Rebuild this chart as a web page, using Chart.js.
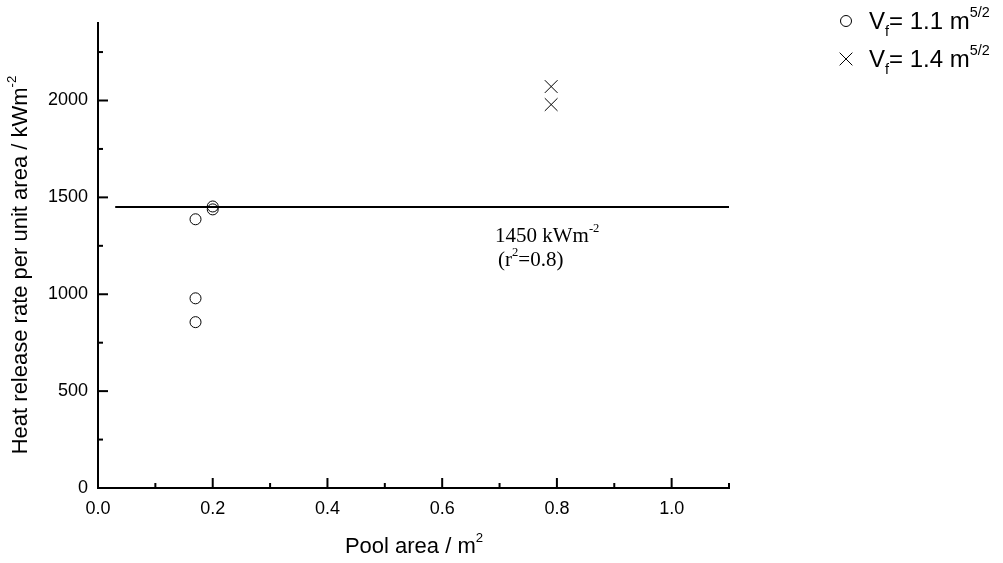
<!DOCTYPE html>
<html>
<head>
<meta charset="utf-8">
<script src="https://cdn.jsdelivr.net/npm/chart.js@4"></script>
<style>
  html, body { margin: 0; padding: 0; background: #fff; }
  #wrap { width: 1003px; height: 563px; position: relative; }
</style>
</head>
<body>
<div id="wrap"><canvas id="chart" width="1003" height="563"></canvas></div>
<script>
// data
const circleX = [0.17, 0.17, 0.17, 0.2, 0.2];
const circleY = [1387, 979, 856, 1453, 1438];
const crossX = [0.79, 0.79];
const crossY = [2072, 1979];
const fitX = [0.03, 1.1];
const fitY = [1450, 1450];
const legendValues = ['1.1', '1.4'];

const toPoints = (xs, ys) => xs.map((x, i) => ({ x: x, y: ys[i] }));

const sansFont = '"Liberation Sans", Arial, sans-serif';
const serifFont = '"Liberation Serif", "Times New Roman", serif';

// draw text with a raised or lowered small part
function drawParts(ctx, parts, x, y, size, family) {
    ctx.textBaseline = 'alphabetic';
    ctx.textAlign = 'left';
    parts.forEach(p => {
        let s = size, dy = 0;
        if (p.sup) { s = size * 0.6; dy = -size * 0.5; }
        if (p.sub) { s = size * 0.6; dy = size * 0.3; }
        ctx.font = s + 'px ' + family;
        ctx.fillText(p.t, x, y + dy);
        x += ctx.measureText(p.t).width;
    });
    return x;
}

function partsWidth(ctx, parts, size, family) {
    let w = 0;
    parts.forEach(p => {
        const s = (p.sup || p.sub) ? size * 0.6 : size;
        ctx.font = s + 'px ' + family;
        w += ctx.measureText(p.t).width;
    });
    return w;
}

const extras = {
    id: 'extras',
    afterDraw(chart) {
        const ctx = chart.ctx;
        const xs = chart.scales.x, ys = chart.scales.y;
        const area = chart.chartArea;
        ctx.save();
        ctx.strokeStyle = '#000';
        ctx.fillStyle = '#000';
        ctx.lineWidth = 2;

        // inward tick marks
        xs.ticks.forEach(t => {
            if (t.value === 0) return;
            const px = xs.getPixelForValue(t.value);
            const major = Math.round(t.value * 10) % 2 === 0;
            ctx.beginPath();
            ctx.moveTo(px, area.bottom);
            ctx.lineTo(px, area.bottom - (major ? 10 : 5));
            ctx.stroke();
        });
        ys.ticks.forEach(t => {
            if (t.value === 0 || t.value % 250 !== 0) return;
            const py = ys.getPixelForValue(t.value);
            const major = t.value % 500 === 0;
            ctx.beginPath();
            ctx.moveTo(area.left, py);
            ctx.lineTo(area.left + (major ? 10 : 5), py);
            ctx.stroke();
        });

        // axis titles
        const xt = [{ t: 'Pool area / m' }, { t: '2', sup: true }];
        const xw = partsWidth(ctx, xt, 22, sansFont);
        drawParts(ctx, xt, 414 - xw / 2, 553, 22, sansFont);

        const yt = [{ t: 'Heat release rate per unit area / kWm' }, { t: '-2', sup: true }];
        const yw = partsWidth(ctx, yt, 22, sansFont);
        ctx.save();
        ctx.translate(27, 265);
        ctx.rotate(-Math.PI / 2);
        drawParts(ctx, yt, -yw / 2, 0, 22, sansFont);
        ctx.restore();

        // fit annotation
        drawParts(ctx, [{ t: '1450 kWm' }, { t: '-2', sup: true }], 495, 242, 21, serifFont);
        drawParts(ctx, [{ t: '(r' }, { t: '2', sup: true }, { t: '=0.8)' }], 498, 266, 21, serifFont);

        // legend
        const marks = ['circle', 'crossRot'];
        marks.forEach((m, i) => {
            const cy = 21 + i * 38;
            ctx.lineWidth = 1;
            ctx.fillStyle = 'rgba(0,0,0,0)';
            Chart.helpers.drawPoint(ctx, { pointStyle: m, radius: m === 'circle' ? 5.5 : 9, rotation: 0, borderWidth: 1 }, 846, cy);
            ctx.fillStyle = '#000';
            const parts = [{ t: 'V' }, { t: 'f', sub: true }, { t: '= ' + legendValues[i] + ' m' }, { t: '5/2', sup: true }];
            drawParts(ctx, parts, 869, cy + 8, 24, sansFont);
        });
        ctx.restore();
    }
};

new Chart(document.getElementById('chart'), {
    type: 'scatter',
    data: {
        datasets: [
            {
                label: 'V_f = 1.1',
                data: toPoints(circleX, circleY),
                pointStyle: 'circle',
                radius: 5.5,
                borderColor: '#000',
                backgroundColor: 'rgba(0,0,0,0)',
                borderWidth: 1
            },
            {
                label: 'V_f = 1.4',
                data: toPoints(crossX, crossY),
                pointStyle: 'crossRot',
                radius: 9,
                borderColor: '#000',
                borderWidth: 1
            },
            {
                type: 'line',
                label: 'fit',
                data: toPoints(fitX, fitY),
                borderColor: '#000',
                borderWidth: 2,
                pointRadius: 0,
                fill: false
            }
        ]
    },
    options: {
        responsive: false,
        animation: false,
        layout: { padding: { left: 0, top: 23, right: 274, bottom: 0 } },
        plugins: { legend: { display: false }, tooltip: { enabled: false } },
        scales: {
            x: {
                type: 'linear',
                min: 0,
                max: 1.1,
                grid: { display: false, drawTicks: false },
                border: { display: true, color: '#000', width: 2 },
                ticks: {
                    stepSize: 0.1,
                    autoSkip: false,
                    maxRotation: 0,
                    padding: 10,
                    color: '#000',
                    font: { family: sansFont, size: 18 },
                    callback: v => Math.round(v * 10) % 2 === 0 ? v.toFixed(1) : ''
                },
                afterFit: s => { s.height = 75; }
            },
            y: {
                type: 'linear',
                min: 0,
                max: 2400,
                grid: { display: false, drawTicks: false },
                border: { display: true, color: '#000', width: 2 },
                ticks: {
                    stepSize: 250,
                    autoSkip: false,
                    padding: 10,
                    color: '#000',
                    font: { family: sansFont, size: 18 },
                    callback: v => v % 500 === 0 ? String(v) : ''
                },
                afterFit: s => { s.width = 98; }
            }
        }
    },
    plugins: [extras]
});
</script>
</body>
</html>
